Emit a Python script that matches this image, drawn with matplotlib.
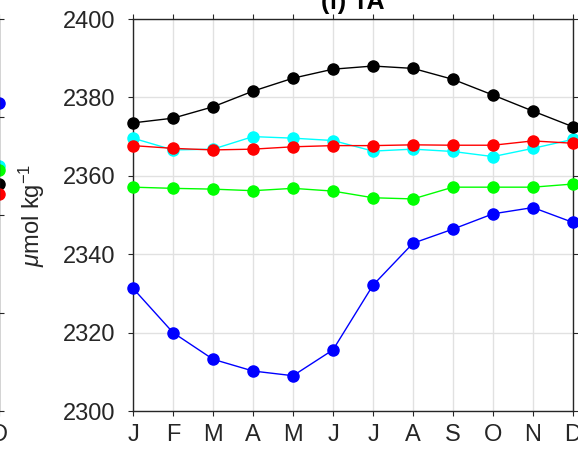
import matplotlib.pyplot as plt
import numpy as np

plt.rcParams['font.family'] = ['Liberation Sans', 'DejaVu Sans']
plt.rcParams['mathtext.fontset'] = 'custom'
plt.rcParams['mathtext.rm'] = 'Liberation Sans'
plt.rcParams['mathtext.it'] = 'Liberation Sans:italic'

months = ['J', 'F', 'M', 'A', 'M', 'J', 'J', 'A', 'S', 'O', 'N', 'D']
y_ticks = [2300, 2320, 2340, 2360, 2380, 2400]

# (f) TA monthly values
ta_black = [2373.5, 2374.7, 2377.6, 2381.6, 2384.9, 2387.2, 2388.0, 2387.4, 2384.6, 2380.6, 2376.5, 2372.5]
ta_blue = [2331.3, 2320.0, 2313.2, 2310.2, 2309.0, 2315.6, 2332.1, 2342.8, 2346.4, 2350.3, 2351.9, 2348.1]
ta_green = [2357.1, 2356.8, 2356.6, 2356.2, 2356.8, 2356.1, 2354.4, 2354.1, 2357.1, 2357.1, 2357.1, 2357.9]
ta_cyan = [2369.6, 2366.6, 2366.8, 2370.0, 2369.6, 2369.0, 2366.3, 2366.8, 2366.2, 2364.9, 2367.0, 2369.3]
ta_red = [2367.7, 2367.0, 2366.6, 2366.8, 2367.4, 2367.7, 2367.7, 2367.9, 2367.8, 2367.8, 2368.9, 2368.3]

# last (Dec) points of the neighbouring panel, only its edge is visible
left_dec_vals = [3.14, 2.5, 2.46, 2.32, 2.21]
left_dec_cols = ['blue', 'cyan', '#00ff00', 'black', 'red']

spine_col = '#262626'
grid_col = '#e1e1e1'

fig = plt.figure(figsize=(5.78, 4.5), dpi=100)
x = np.arange(1, 13)


def style_axes(ax):
    ax.set_xlim(1, 12)
    ax.set_xticks(x)
    ax.grid(True, color=grid_col, linewidth=1.0)
    ax.set_axisbelow(True)
    for s in ax.spines.values():
        s.set_color(spine_col)
        s.set_linewidth(1.0)
    ax.tick_params(direction='out', length=3.6, width=0.8, color=spine_col,
                   labelcolor=spine_col, labelsize=17, top=True, right=True)


# neighbour panel, placed mostly off the canvas
ax0 = fig.add_axes([-441 / 578, 39 / 450, 440 / 578, 392 / 450])
style_axes(ax0)
ax0.set_ylim(0, 4)
ax0.set_yticks([0, 1, 2, 3, 4])
ax0.set_yticklabels([])
ax0.set_xticklabels(months)
ax0.tick_params(axis='x', pad=6)
for v, c in zip(left_dec_vals, left_dec_cols):
    ax0.plot([12], [v], 'o', color=c, markersize=8, clip_on=False)

ax = fig.add_axes([133 / 578, 39 / 450, 440 / 578, 392 / 450])
style_axes(ax)
ax.set_ylim(2300, 2400)
ax.set_yticks(y_ticks)
ax.set_xticklabels(months)
ax.tick_params(axis='x', pad=6)
ax.tick_params(axis='y', pad=9)

for vals, c in [(ta_blue, 'blue'), (ta_green, '#00ff00'), (ta_cyan, 'cyan'),
                (ta_black, 'black'), (ta_red, 'red')]:
    ax.plot(x, vals, '-o', color=c, linewidth=1.0, markersize=8, clip_on=False, zorder=3)

ax.set_ylabel(r'$\mu$mol kg$^{-1}$', fontsize=17, color=spine_col)
ax.yaxis.set_label_coords(-0.195, 0.5)
ax.set_title('(f) TA', fontsize=18, fontweight='bold', color='black', pad=7)

fig.savefig('out.png', dpi=100)
